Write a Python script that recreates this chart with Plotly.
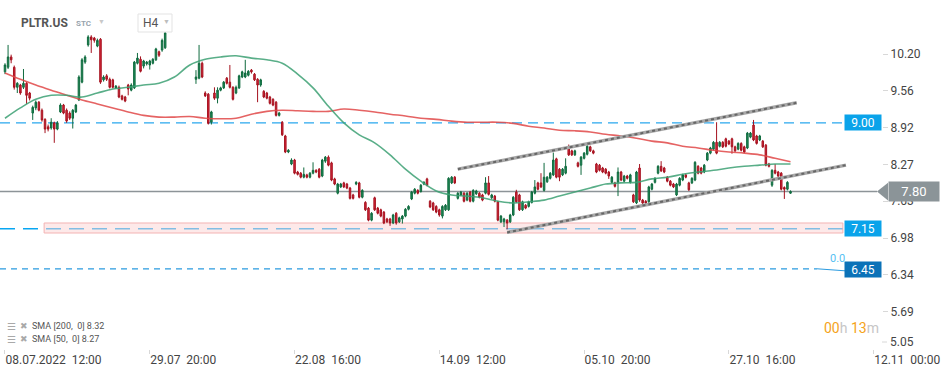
import plotly.graph_objects as go

# ---------------- DATA ----------------
# H4 candles, bar index 0..255 (PLTR.US, 08.07.2022 12:00 onwards)
open_ = [9.89,9.97,10.15,9.97,9.62,9.66,9.62,9.69,9.52,9.17,9.26,9.36,9.22,9.06,8.93,8.91,9.00,8.89,9.19,9.31,
         9.22,9.17,9.08,9.19,9.40,9.71,10.06,10.36,10.50,10.48,10.34,10.46,9.75,9.82,9.76,9.75,9.61,9.62,9.47,9.45,
         9.66,9.57,9.61,10.04,10.11,9.99,10.03,10.01,10.04,10.10,10.24,10.27,10.31,11.25,11.40,11.50,11.42,11.30,11.44,11.62,
         11.50,11.35,9.76,9.78,10.04,9.52,9.50,9.01,9.52,9.43,9.57,9.61,9.78,9.71,9.62,9.52,9.61,9.80,9.80,9.83,
         9.92,9.85,9.76,9.66,9.55,9.52,9.45,9.41,9.36,9.13,9.01,8.77,8.49,8.28,8.35,8.14,8.12,8.05,8.09,8.05,
         8.12,8.17,8.19,8.07,8.33,8.40,8.30,8.02,7.77,7.88,7.95,7.93,7.86,7.74,7.93,7.95,7.70,7.61,7.51,7.30,
         7.69,7.51,7.48,7.44,7.32,7.32,7.25,7.42,7.27,7.32,7.37,7.49,7.67,7.77,7.82,7.80,7.93,8.02,7.63,7.60,
         7.54,7.48,7.37,7.48,7.48,7.95,8.05,7.68,7.74,7.77,7.65,7.79,7.63,7.76,7.77,7.74,7.77,7.95,7.69,7.72,
         7.62,7.27,7.27,7.30,7.27,7.39,7.79,7.74,7.48,7.56,7.54,7.61,7.77,7.95,7.95,7.82,7.97,8.03,8.09,8.37,
         8.19,8.09,8.12,8.56,8.51,8.44,8.30,8.26,8.38,8.45,8.58,8.51,8.28,8.26,8.21,8.19,8.14,7.96,7.95,7.96,
         8.14,7.98,8.07,7.96,7.74,7.60,8.21,7.65,7.63,7.62,7.84,7.96,8.12,8.24,8.21,8.05,7.98,7.93,7.74,7.91,
         8.00,8.09,7.95,7.95,8.00,8.24,8.21,8.14,8.35,8.47,8.54,8.66,8.59,8.66,8.72,8.68,8.72,8.58,8.54,8.64,
         8.58,8.56,8.75,8.96,8.77,8.70,8.68,8.61,8.28,7.91,8.17,8.14,8.12,7.87,7.84,7.77]
high = [10.04,10.36,10.19,10.00,9.71,9.68,9.94,9.71,9.54,9.30,9.39,9.38,9.25,9.08,8.97,9.08,9.02,9.03,9.34,9.33,
        9.25,9.20,9.24,9.33,9.83,10.13,10.18,10.53,10.53,10.50,10.47,10.48,9.83,9.85,9.79,9.77,9.66,9.65,9.49,9.47,
        9.68,9.69,10.08,10.22,10.16,10.10,10.08,10.10,10.13,10.31,10.26,10.47,10.64,11.45,11.60,11.65,11.55,11.48,11.70,11.75,
        11.58,11.50,9.92,10.36,10.07,9.55,9.52,9.21,9.62,9.62,9.63,9.73,9.80,10.01,9.64,9.65,9.84,9.91,10.10,9.92,
        9.94,9.87,9.78,9.77,9.57,9.54,9.47,9.43,9.38,9.19,9.03,8.79,8.54,8.38,8.37,8.16,8.14,8.22,8.11,8.14,
        8.31,8.19,8.21,8.37,8.42,8.43,8.32,8.04,7.95,7.95,7.97,7.95,7.88,7.76,7.98,7.97,7.84,7.63,7.53,7.44,
        7.71,7.53,7.50,7.46,7.34,7.34,7.41,7.44,7.36,7.39,7.51,7.56,7.81,7.86,7.84,7.93,7.98,8.04,7.65,7.62,
        7.56,7.50,7.56,7.58,8.05,8.07,8.07,7.79,7.81,7.79,7.79,7.81,7.84,7.83,7.79,7.76,8.05,8.07,7.76,7.74,
        7.64,7.39,7.34,7.32,7.41,7.72,7.83,7.76,7.64,7.58,7.64,7.81,8.00,7.97,8.12,8.30,8.07,8.14,8.48,8.39,
        8.21,8.21,8.38,8.62,8.53,8.53,8.32,8.42,8.49,8.61,8.60,8.53,8.30,8.28,8.23,8.21,8.16,8.07,7.97,8.22,
        8.16,8.09,8.09,8.11,7.76,8.16,8.28,7.67,7.65,7.90,7.95,8.05,8.26,8.33,8.23,8.07,8.00,7.95,7.95,8.05,
        8.11,8.11,7.97,8.05,8.33,8.26,8.23,8.28,8.49,8.58,8.68,9.01,8.68,8.68,8.74,8.70,8.74,8.60,8.66,8.66,
        8.60,8.84,8.84,9.05,8.79,8.79,8.70,8.63,8.30,8.19,8.28,8.16,8.14,7.89,7.98,7.82]
low = [9.85,9.94,10.04,9.58,9.52,9.49,9.59,9.33,9.39,9.05,9.22,9.20,9.02,8.82,8.85,8.88,8.65,8.87,9.17,9.15,
       9.00,9.05,8.90,9.17,9.38,9.69,10.03,10.33,10.22,10.40,10.32,9.68,9.72,9.73,9.60,9.60,9.59,9.43,9.39,9.36,
       9.48,9.55,9.59,10.02,9.88,9.95,10.00,9.93,10.02,10.08,10.15,10.24,10.29,11.20,11.30,11.35,11.25,11.22,11.40,11.45,
       11.30,11.25,9.68,9.76,9.78,9.45,8.97,8.97,9.40,9.34,9.55,9.59,9.67,9.60,9.39,9.50,9.59,9.78,9.78,9.81,
       9.86,9.73,9.36,9.63,9.43,9.41,9.32,9.29,9.11,9.11,8.77,8.47,8.47,8.26,8.10,8.08,8.03,8.03,8.03,8.03,
       8.10,8.12,8.03,8.05,8.30,8.24,7.98,7.91,7.75,7.86,7.86,7.84,7.66,7.66,7.91,7.68,7.68,7.46,7.28,7.28,
       7.46,7.40,7.35,7.23,7.25,7.20,7.23,7.22,7.25,7.24,7.35,7.47,7.65,7.75,7.75,7.78,7.91,7.89,7.51,7.46,
       7.42,7.36,7.33,7.46,7.46,7.93,7.93,7.66,7.72,7.61,7.63,7.61,7.61,7.74,7.68,7.63,7.75,7.73,7.67,7.61,
       7.28,7.25,7.18,7.14,7.25,7.37,7.60,7.46,7.46,7.49,7.52,7.59,7.75,7.82,7.86,7.80,7.95,8.01,8.07,8.03,
       7.98,8.07,8.10,8.42,8.42,8.42,8.22,8.09,8.36,8.43,8.49,8.45,8.12,8.15,8.12,8.10,8.02,7.94,7.87,7.72,
       7.98,7.96,8.01,7.94,7.60,7.58,7.62,7.58,7.58,7.60,7.82,7.94,8.10,8.14,8.12,7.96,7.89,7.86,7.72,7.89,
       7.98,8.03,7.81,7.93,7.98,8.10,8.10,8.12,8.33,8.45,8.52,8.45,8.57,8.56,8.57,8.61,8.46,8.49,8.52,8.50,
       8.47,8.54,8.73,8.68,8.62,8.68,8.56,8.24,8.22,7.88,8.10,8.05,7.82,7.67,7.82,7.76]
close = [10.01,10.15,10.10,9.62,9.69,9.52,9.69,9.48,9.43,9.27,9.36,9.22,9.05,8.89,8.89,9.01,8.89,9.00,9.31,9.17,
         9.03,9.08,9.22,9.31,9.80,10.10,10.15,10.50,10.45,10.44,10.44,9.71,9.80,9.76,9.62,9.62,9.64,9.45,9.41,9.38,
         9.59,9.66,10.06,10.13,9.90,10.08,10.06,10.08,10.11,10.29,10.18,10.44,10.57,11.40,11.50,11.42,11.30,11.44,11.62,11.50,
         11.35,11.42,9.80,10.04,9.80,9.47,8.99,9.19,9.43,9.57,9.61,9.71,9.69,9.62,9.41,9.62,9.82,9.89,9.87,9.90,
         9.89,9.75,9.66,9.75,9.45,9.43,9.34,9.31,9.13,9.17,8.79,8.49,8.52,8.35,8.12,8.10,8.05,8.10,8.05,8.12,
         8.17,8.14,8.05,8.35,8.40,8.26,8.00,7.93,7.93,7.93,7.88,7.86,7.68,7.68,7.96,7.70,7.82,7.48,7.30,7.42,
         7.48,7.42,7.37,7.25,7.27,7.25,7.39,7.25,7.34,7.37,7.49,7.54,7.79,7.84,7.77,7.91,7.96,7.91,7.53,7.48,
         7.44,7.39,7.54,7.56,8.03,8.05,7.95,7.77,7.79,7.63,7.77,7.63,7.82,7.81,7.70,7.65,7.95,7.75,7.74,7.63,
         7.30,7.37,7.32,7.25,7.39,7.70,7.62,7.48,7.62,7.51,7.62,7.79,7.88,7.84,7.88,8.05,8.05,8.12,8.35,8.05,
         8.05,8.19,8.24,8.44,8.44,8.51,8.24,8.40,8.47,8.59,8.51,8.47,8.14,8.17,8.14,8.12,8.07,8.05,7.89,8.14,
         8.00,8.07,8.03,8.09,7.62,8.14,7.65,7.60,7.60,7.88,7.93,8.03,8.24,8.16,8.14,7.98,7.91,7.88,7.93,8.03,
         8.09,8.05,7.83,8.03,8.31,8.12,8.12,8.26,8.47,8.56,8.66,8.47,8.66,8.58,8.59,8.63,8.58,8.51,8.64,8.52,
         8.49,8.82,8.82,8.70,8.64,8.77,8.58,8.26,8.24,8.17,8.12,8.07,7.84,7.84,7.96,7.80]

# SMA readings (bar index -> value)
sma_idx = list(range(0, 256, 5)) + [255]
sma50 = [9.08,9.26,9.41,9.48,9.48,9.45,9.52,9.59,9.62,9.66,9.69,9.80,10.01,10.11,10.15,10.17,10.13,10.10,10.04,9.85,
         9.61,9.29,9.00,8.79,8.65,8.44,8.19,7.98,7.81,7.74,7.72,7.69,7.63,7.60,7.62,7.65,7.72,7.79,7.86,7.93,
         7.95,7.96,8.02,8.05,8.10,8.14,8.17,8.21,8.24,8.26,8.28,8.28]
sma200 = [9.87,9.76,9.66,9.57,9.48,9.40,9.33,9.26,9.19,9.13,9.10,9.10,9.11,9.08,9.07,9.08,9.15,9.20,9.22,9.21,
          9.20,9.20,9.24,9.22,9.19,9.15,9.12,9.08,9.06,9.03,9.01,9.01,9.01,8.99,8.94,8.91,8.87,8.86,8.84,8.80,
          8.77,8.73,8.68,8.65,8.59,8.56,8.52,8.49,8.47,8.44,8.38,8.32]

# trend channel (bar index, price)
chan_up_x, chan_up_y = [147, 257], [8.19, 9.35]
chan_lo_x, chan_lo_y = [163, 273], [7.085, 8.26]

# levels
level_900 = 9.00
level_715 = 7.15
level_645 = 6.45
last_price = 7.80
zone_x = [12.7, 272.0]
zone_y = [7.075, 7.25]

# axes
x_tickvals = [0, 47, 94, 141, 188, 235, 282]
x_ticktext = ["08.07.2022\u00a0\u00a012:00", "29.07\u00a0\u00a020:00", "22.08\u00a0\u00a016:00",
              "14.09\u00a0\u00a012:00", "05.10\u00a0\u00a020:00", "27.10\u00a0\u00a016:00", "12.11\u00a0\u00a000:00"]
y_tickvals = [10.20, 9.5575, 8.915, 8.2725, 7.63, 6.9875, 6.345, 5.7025]
y_ticktext = ["10.20", "9.56", "8.92", "8.27", "7.63", "6.98", "6.34", "5.69"]
y_bottom_label = "5.05"

# ---------------- LAYOUT HELPERS ----------------
W, H = 949, 373
ML, MR, MT, MB = 0, 67, 0, 24
PW, PH = W - ML - MR, H - MT - MB
def px_x(p):
    return (p - ML) / PW
def px_y(p):
    return 1 - (p - MT) / PH

FONT = "Roboto, 'Open Sans', Arial, sans-serif"
xidx = list(range(len(close)))

fig = go.Figure()

fig.add_trace(go.Scatter(x=sma_idx, y=sma200, mode="lines", line=dict(color="rgba(224,72,72,0.85)", width=1.6, shape="spline"),
                         hoverinfo="skip", showlegend=False))
fig.add_trace(go.Scatter(x=sma_idx, y=sma50, mode="lines", line=dict(color="rgba(60,160,115,0.85)", width=1.6, shape="spline"),
                         hoverinfo="skip", showlegend=False))

fig.add_trace(go.Candlestick(
    x=xidx, open=open_, high=high, low=low, close=close,
    increasing=dict(fillcolor="#1f8c59", line=dict(color="#0f6a3e", width=1)),
    decreasing=dict(fillcolor="#d9263b", line=dict(color="#a5121f", width=1)),
    whiskerwidth=0, showlegend=False, hoverinfo="skip"))

for cx, cy in [(chan_up_x, chan_up_y), (chan_lo_x, chan_lo_y)]:
    fig.add_trace(go.Scatter(x=cx, y=cy, mode="lines", line=dict(color="#a8a8a8", width=3.4),
                             hoverinfo="skip", showlegend=False))
    fig.add_trace(go.Scatter(x=cx, y=cy, mode="lines", line=dict(color="#666666", width=2, dash="3px,3px"),
                             hoverinfo="skip", showlegend=False))

shapes = [
    dict(type="line", xref="paper", yref="y", x0=0, x1=px_x(845), y0=level_900, y1=level_900,
         line=dict(color="#2aa8ee", width=1.3, dash="10px,6px"), layer="below"),
    dict(type="line", xref="paper", yref="y", x0=0, x1=px_x(843), y0=level_715, y1=level_715,
         line=dict(color="#08a6f2", width=1.5, dash="15px,8px"), layer="below"),
    dict(type="rect", xref="x", yref="y", x0=zone_x[0], x1=zone_x[1], y0=zone_y[0], y1=zone_y[1],
         fillcolor="rgba(251,212,212,0.5)", line=dict(color="#f3b3b3", width=1), layer="below"),
    dict(type="line", xref="paper", yref="y", x0=0, x1=px_x(817), y0=level_645, y1=level_645,
         line=dict(color="#2b9be0", width=1.2, dash="6px,5px"), layer="below"),
    dict(type="line", xref="paper", yref="y", x0=px_x(817), x1=px_x(845), y0=level_645, y1=level_645 - 0.035,
         line=dict(color="#2b9be0", width=1)),
    dict(type="line", xref="paper", yref="y", x0=0, x1=px_x(877), y0=last_price, y1=last_price,
         line=dict(color="#8d9498", width=1.5), layer="below"),
    dict(type="path", xref="paper", yref="y",
         path=f"M {px_x(877)},{last_price} L {px_x(888)},{last_price + 0.155} L {px_x(888)},{last_price - 0.155} Z",
         fillcolor="#8b9498", line=dict(width=0)),
    dict(type="rect", xref="paper", yref="paper", x0=px_x(138), x1=px_x(172), y0=px_y(32), y1=px_y(14),
         fillcolor="white", line=dict(color="#e3e3e3", width=1), layer="above"),
    dict(type="line", xref="paper", yref="paper", x0=px_x(882), x1=px_x(887), y0=px_y(342), y1=px_y(342),
         line=dict(color="#d8d8d8", width=1)),
]

def ann(text, x, y, size=12, color="#555", xanchor="left", yanchor="middle", xref="paper", yref="paper", **kw):
    return dict(text=text, x=x, y=y, xref=xref, yref=yref, xanchor=xanchor, yanchor=yanchor,
                showarrow=False, font=dict(family=FONT, size=size, color=color), **kw)

annotations = [
    ann("<b>PLTR.US</b>", px_x(19), px_y(23), size=12, color="#555"),
    ann("<b>STC</b>", px_x(74), px_y(24), size=8, color="#97a3ad"),
    ann("▼", px_x(96), px_y(22), size=7, color="#c8c8c8"),
    ann("H4", px_x(141), px_y(23), size=12, color="#555"),
    ann("▼", px_x(161), px_y(22), size=7, color="#bdbdbd"),
    ann("☰", px_x(5), px_y(326), size=10, color="#a9a9a9"),
    ann("✖", px_x(18), px_y(326), size=9, color="#a9a9a9"),
    ann("☰", px_x(5), px_y(339), size=10, color="#a9a9a9"),
    ann("✖", px_x(18), px_y(339), size=9, color="#a9a9a9"),
    ann("SMA [200,\u00a0 0] 8.32", px_x(30), px_y(326), size=9, color="#555"),
    ann("SMA [50,\u00a0 0] 8.27", px_x(30), px_y(339), size=9, color="#555"),
    ann("<span style='color:#f5a31a'>00</span><span style='color:#c6c6c6'>h</span> "
        "<span style='color:#f5a31a'>13</span><span style='color:#c6c6c6'>m</span>",
        px_x(881), px_y(328), size=14, xanchor="right"),
    ann("9.00", 1.0, level_900, size=12, color="white", xanchor="right", yref="y",
        bgcolor="#0aa3ea", width=36, height=15, borderpad=0),
    ann("7.15", 1.0, level_715, size=12, color="white", xanchor="right", yref="y",
        bgcolor="#0aa3ea", width=36, height=15, borderpad=0),
    ann("6.45", 1.0, level_645 - 0.02, size=12, color="white", xanchor="right", yref="y",
        bgcolor="#0b72b8", width=36, height=15, borderpad=0),
    ann("0.0", px_x(837), px_y(258), size=11, color="#55c0f2", xanchor="center"),
    ann("7.80", px_x(888), last_price, size=13, color="white", xanchor="left", yref="y",
        bgcolor="#8b9498", width=50, height=19, borderpad=0),
    ann(y_bottom_label, px_x(888), px_y(342), size=12, color="#444", xanchor="left"),
]

fig.update_layout(
    width=W, height=H, margin=dict(l=ML, r=MR, t=MT, b=MB),
    paper_bgcolor="white", plot_bgcolor="white",
    font=dict(family=FONT, size=12, color="#444"),
    shapes=shapes, annotations=annotations, showlegend=False,
    xaxis=dict(range=[-1.62, 284.7], tickvals=x_tickvals, ticktext=x_ticktext,
               ticklabelposition="outside right", ticks="outside", ticklen=4, tickcolor="#d8d8d8",
               showgrid=False, zeroline=False, showline=False, rangeslider=dict(visible=False),
               tickfont=dict(family=FONT, size=12, color="#444")),
    yaxis=dict(range=[5.049, 11.145], side="right", tickvals=y_tickvals, ticktext=y_ticktext,
               ticks="outside", ticklen=5, tickcolor="#d8d8d8", showgrid=False, zeroline=False,
               showline=False, tickfont=dict(family=FONT, size=12, color="#444")),
)

fig.write_html("out.html", config={"displayModeBar": False, "staticPlot": True},
               post_script="document.body.style.margin='0';document.body.style.padding='0';document.body.style.overflow='hidden';")
